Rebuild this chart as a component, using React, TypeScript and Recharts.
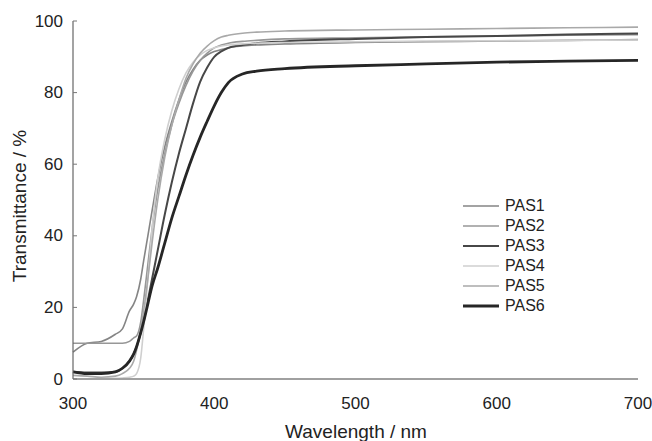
import React from 'react'
import { LineChart, Line, XAxis, YAxis } from 'recharts'

const wavelength = [300, 310, 320, 330, 335, 340, 343, 345, 348, 350, 353, 356, 360, 365, 370, 375, 380, 385, 390, 395, 400, 405, 410, 420, 430, 450, 500, 550, 600, 650, 700]

const pas1 = [7.5, 10, 10.5, 12.5, 14, 19, 21, 23, 28, 33, 40, 47, 56, 65, 72, 78, 83, 86.5, 89, 90.5, 91.5, 92, 92.5, 93, 93.3, 93.6, 94, 94.2, 94.4, 94.6, 94.8]
const pas2 = [10, 10, 10, 10, 10, 10.5, 11.5, 12, 16, 22, 32, 42, 53, 63, 71, 77, 82, 86, 89, 91, 92.5, 93.3, 93.8, 94.3, 94.6, 95, 95.3, 95.6, 95.8, 96, 96.2]
const pas3 = [2, 1.8, 1.8, 2, 3, 5, 7, 9, 13, 16, 22, 28, 36, 46, 55, 63, 70, 77, 83, 87, 90, 91.5, 92.5, 93.3, 93.8, 94.3, 95, 95.5, 95.8, 96.2, 96.5]
const pas4 = [0, 0, 0, 0.2, 0.3, 0.5, 0.8, 1.5, 6, 14, 28, 42, 56, 67, 75, 81, 85.5, 88.5, 90.5, 91.8, 92.5, 93, 93.3, 93.6, 93.8, 94, 94.2, 94.4, 94.5, 94.6, 94.7]
const pas5 = [1, 0.8, 0.5, 0.8, 1.5, 3, 5, 8, 14, 19, 28, 38, 50, 62, 71, 78, 84, 88, 91, 93, 94.5, 95.5, 96, 96.6, 96.9, 97.2, 97.5, 97.7, 97.9, 98.1, 98.3]
const pas6 = [2, 1.5, 1.5, 2, 3, 5, 7, 9, 13, 16, 21, 26, 31, 38, 45, 51, 57, 62.5, 67.5, 72, 76.3, 80, 82.8, 85.2, 86, 86.7, 87.5, 88, 88.5, 88.8, 89]

const xTicks = [300, 400, 500, 600, 700]
const yTicks = [0, 20, 40, 60, 80, 100]

const series = [
  { key: 'PAS1', values: pas1, color: '#858585', width: 1.6 },
  { key: 'PAS2', values: pas2, color: '#979797', width: 1.6 },
  { key: 'PAS3', values: pas3, color: '#474747', width: 2 },
  { key: 'PAS4', values: pas4, color: '#cfcfcf', width: 1.6 },
  { key: 'PAS5', values: pas5, color: '#a9a9a9', width: 1.6 },
  { key: 'PAS6', values: pas6, color: '#262626', width: 2.8 },
]

const data = wavelength.map((w, i) => {
  const row: Record<string, number> = { wl: w }
  series.forEach(s => { row[s.key] = s.values[i] })
  return row
})

const FONT = "'Liberation Sans', Arial, sans-serif"
const tickStyle = { fontSize: 17, fill: '#222', fontFamily: FONT }
const AXIS_X = 73

// y tick: label plus a short mark pointing into the plot
function YTick(props: any) {
  const { x, y, payload } = props
  return (
    <g>
      <line x1={AXIS_X} y1={y} x2={AXIS_X + 4} y2={y} stroke="#777" strokeWidth={1} />
      <text x={x} y={y} textAnchor="end" dominantBaseline="central" style={tickStyle}>{payload.value}</text>
    </g>
  )
}

function LegendBox() {
  return (
    <div style={{ position: 'absolute', left: 463, top: 196, fontFamily: FONT, fontSize: 16, color: '#222', lineHeight: '20px' }}>
      {series.map(s => (
        <div key={s.key} style={{ display: 'flex', alignItems: 'center', height: 20 }}>
          <svg width={36} height={6} style={{ marginRight: 6 }}>
            <line x1={0} y1={3} x2={36} y2={3} stroke={s.color} strokeWidth={s.width} />
          </svg>
          <span>{s.key}</span>
        </div>
      ))}
    </div>
  )
}

export default function App() {
  return (
    <div style={{ position: 'absolute', left: 0, top: 0, width: 652, height: 441, background: '#fff' }}>
      <LineChart width={652} height={441} data={data} margin={{ top: 21, right: 14, bottom: 32, left: 0 }}>
        <XAxis
          dataKey="wl" type="number" domain={[300, 700]} ticks={xTicks}
          axisLine={{ stroke: '#a0a0a0', strokeWidth: 2 }} tickLine={false} tickSize={0} tickMargin={18}
          tick={tickStyle} height={30}
          label={{
            content: () => (
              <text x={356} y={431} textAnchor="middle" dominantBaseline="central" style={{ fontSize: 19, fill: '#222', fontFamily: FONT }}>
                Wavelength / nm
              </text>
            ),
          }}
        />
        <YAxis
          type="number" domain={[0, 100]} ticks={yTicks} width={73}
          axisLine={{ stroke: '#666', strokeWidth: 1.2 }} tickLine={false} tickSize={0} tickMargin={10}
          tick={<YTick />}
          label={{
            content: () => (
              <text x={19} y={206} transform="rotate(-90 19 206)" textAnchor="middle" dominantBaseline="central" style={{ fontSize: 19, fill: '#222', fontFamily: FONT }}>
                Transmittance / %
              </text>
            ),
          }}
        />
        {series.map(s => (
          <Line key={s.key} type="monotone" dataKey={s.key} stroke={s.color} strokeWidth={s.width} dot={false} isAnimationActive={false} />
        ))}
      </LineChart>
      <LegendBox />
    </div>
  )
}
